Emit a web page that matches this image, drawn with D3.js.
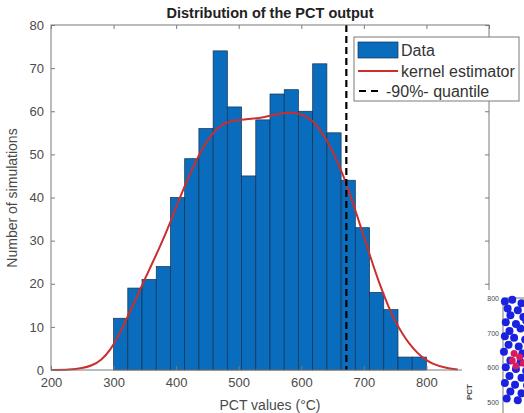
<!DOCTYPE html>
<html>
<head>
<script src="https://cdn.jsdelivr.net/npm/d3@7"></script>
<title>Distribution of the PCT output</title>
<style>
  body { margin:0; background:#fff; }
  text { font-family:"Liberation Sans", Arial, sans-serif; }
</style>
</head>
<body>
<div id="chart"></div>
<script>
// histogram counts, 22 bins between 300 and 800
var binStart = 300, binEnd = 800;
var counts = [12,19,21,24,40,49,56,74,61,45,58,64,65,60,71,55,44,33,18,14,3,3];

// kernel estimator curve
var kdeX = [200,230,250,265,280,295,310,326,342,358,374,390,406,422,438,454,470,485,500,520,540,566,590,610,625,640,652,665,673,686,700,710,725,740,750,762,773,785,797,810,830,850];
var kdeY = [0,0.05,0.4,1.0,2.2,4.6,8.5,13.4,18.6,23.6,28.5,34,40,45.5,50.4,54.2,56.7,57.7,58,58.2,58.6,59.5,59.8,58.8,56.8,53.5,50.2,45.8,42.8,37.2,31,26.4,19.9,14.4,11.3,8.3,6.0,4.0,2.5,1.4,0.5,0.1];

var quantile90 = 672;

var xTicks = [200,300,400,500,600,700,800];
var yTicks = [0,10,20,30,40,50,60,70,80];

var legendLabels = ["Data", "kernel estimator", "-90%- quantile"];

// piece of the neighbouring figure (scatter of PCT), cut off at the right edge
var insetTicks = [800,700,600,500];
var insetBlue = [[0.02,790],[0.10,795],[0.20,785],[0.30,792],[0.05,770],[0.16,765],[0.27,772],[0.08,750],[0.22,745],[0.33,752],
                 [0.03,730],[0.14,725],[0.25,735],[0.35,728],[0.07,705],[0.19,712],[0.30,700],[0.02,690],[0.12,685],[0.24,680],
                 [0.34,688],[0.06,665],[0.17,660],[0.28,668],[0.01,645],[0.21,640],[0.32,648],[0.08,620],[0.19,615],[0.29,625],
                 [0.03,600],[0.14,595],[0.25,590],[0.35,602],[0.07,575],[0.20,570],[0.31,580],[0.02,555],[0.13,550],[0.26,548],
                 [0.08,530],[0.20,525],[0.32,532],[0.04,510],[0.16,505],[0.28,500]];
var insetRed = [[0.12,640],[0.18,630],[0.10,620],[0.22,612],[0.14,604]];

var w = 524, h = 413;
var svg = d3.select("#chart").append("svg").attr("width", w).attr("height", h);

var x = d3.scaleLinear().domain([200,900]).range([51,489]);
var y = d3.scaleLinear().domain([0,80]).range([370,25]);

var axisCol = "#7a7a7a", textCol = "#4a4a4a";

// bars
var bw = (binEnd - binStart) / counts.length;
svg.selectAll("rect.bar").data(counts).enter().append("rect")
   .attr("class","bar")
   .attr("x", function(d,i){ return x(binStart + i*bw); })
   .attr("y", function(d){ return y(d); })
   .attr("width", function(d,i){ return x(binStart + (i+1)*bw) - x(binStart + i*bw); })
   .attr("height", function(d){ return y(0) - y(d); })
   .attr("fill", "#0a6cbd")
   .attr("stroke", "#17324f")
   .attr("stroke-width", 0.7);

// kernel curve
var line = d3.line().x(function(d){ return x(d[0]); }).y(function(d){ return y(d[1]); })
             .curve(d3.curveBasis);
svg.append("path").datum(d3.zip(kdeX, kdeY))
   .attr("d", line).attr("fill","none")
   .attr("stroke", "#cc2e2e").attr("stroke-width", 2);

// quantile line
svg.append("line")
   .attr("x1", x(quantile90)).attr("x2", x(quantile90))
   .attr("y1", y(80)).attr("y2", y(0))
   .attr("stroke", "#000").attr("stroke-width", 2.2)
   .attr("stroke-dasharray", "7,4");

// axes box
svg.append("rect").attr("x", x(200)).attr("y", y(80))
   .attr("width", x(900)-x(200)).attr("height", y(0)-y(80))
   .attr("fill","none").attr("stroke", axisCol).attr("stroke-width", 1);

var xa = svg.append("g").attr("transform","translate(0," + y(0) + ")")
   .call(d3.axisBottom(x).tickValues(xTicks).tickSize(-4).tickPadding(8));
var xaTop = svg.append("g").attr("transform","translate(0," + y(80) + ")")
   .call(d3.axisTop(x).tickValues(xTicks.concat([900])).tickSize(-4).tickFormat(""));
var ya = svg.append("g").attr("transform","translate(" + x(200) + ",0)")
   .call(d3.axisLeft(y).tickValues(yTicks).tickSize(-4).tickPadding(7));
var yaR = svg.append("g").attr("transform","translate(" + x(900) + ",0)")
   .call(d3.axisRight(y).tickValues(yTicks).tickSize(-4).tickFormat(""));

[xa, xaTop, ya, yaR].forEach(function(g){
  g.select(".domain").remove();
  g.selectAll("line").attr("stroke", axisCol);
  g.selectAll("text").attr("fill", textCol).style("font-size","13px")
   .style("font-family", "'Liberation Sans', Arial, sans-serif");
});

// titles
svg.append("text").attr("x", 270).attr("y", 18).attr("text-anchor","middle")
   .style("font-size","14.5px").style("font-weight","bold").attr("fill","#222")
   .text("Distribution of the PCT output");
svg.append("text").attr("x", 270).attr("y", 410).attr("text-anchor","middle")
   .style("font-size","14px").attr("fill", textCol)
   .text("PCT values (°C)");
svg.append("text").attr("transform","translate(17,198) rotate(-90)")
   .attr("text-anchor","middle").style("font-size","14px").attr("fill", textCol)
   .text("Number of simulations");

// legend
var lg = svg.append("g");
lg.append("rect").attr("x",354).attr("y",37).attr("width",165).attr("height",64)
  .attr("fill","#fff").attr("stroke", axisCol).attr("stroke-width",1);
lg.append("rect").attr("x",358).attr("y",42).attr("width",40).attr("height",16)
  .attr("fill","#0a6cbd").attr("stroke","#17324f").attr("stroke-width",0.7);
lg.append("line").attr("x1",358).attr("x2",398).attr("y1",71).attr("y2",71)
  .attr("stroke","#cc2e2e").attr("stroke-width",2);
lg.append("line").attr("x1",359).attr("x2",380).attr("y1",91).attr("y2",91)
  .attr("stroke","#000").attr("stroke-width",2).attr("stroke-dasharray","7,5");
lg.selectAll("text").data(legendLabels).enter().append("text")
  .attr("x", function(d,i){ return i == 2 ? 386 : 401; })
  .attr("y", function(d,i){ return 56 + i*20.5; })
  .style("font-size","16px").attr("fill","#333")
  .text(function(d){ return d; });

// inset of the neighbouring figure
var ix = d3.scaleLinear().domain([0,0.4]).range([503,540]);
var iy = d3.scaleLinear().domain([500,800]).range([402,298]);
var ins = svg.append("g");
ins.append("rect").attr("x",462).attr("y",290).attr("width",62).attr("height",123).attr("fill","#fff");
ins.append("rect").attr("x",503).attr("y",298).attr("width",40).attr("height",130)
   .attr("fill","none").attr("stroke", axisCol);
ins.selectAll("circle.b").data(insetBlue).enter().append("circle")
   .attr("cx", function(d){ return ix(d[0]); }).attr("cy", function(d){ return iy(d[1]); })
   .attr("r", 4).attr("fill","#1a22e0");
ins.selectAll("circle.r").data(insetRed).enter().append("circle")
   .attr("cx", function(d){ return ix(d[0]); }).attr("cy", function(d){ return iy(d[1]); })
   .attr("r", 3.5).attr("fill","#d81b60");
ins.selectAll("text.t").data(insetTicks).enter().append("text")
   .attr("x", 499).attr("y", function(d){ return iy(d) + 3; })
   .attr("text-anchor","end").style("font-size","7px").attr("fill", textCol)
   .text(function(d){ return d; });
ins.append("text").attr("transform","translate(472,392) rotate(-90)")
   .attr("text-anchor","middle").style("font-size","8px").style("font-weight","bold")
   .attr("fill", textCol).text("PCT");
</script>
</body>
</html>
